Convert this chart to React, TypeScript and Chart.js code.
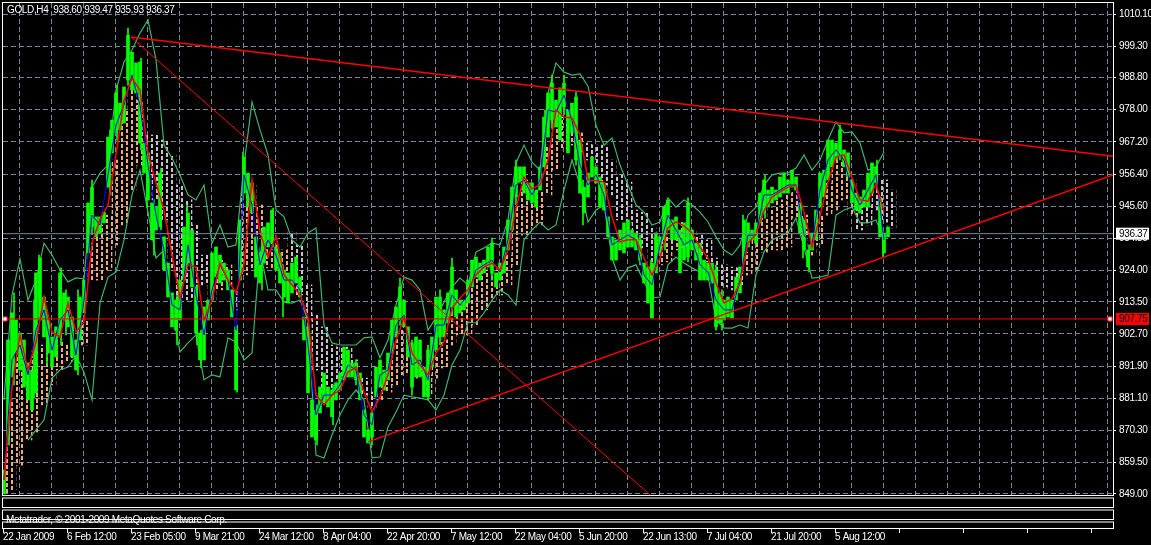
import React, { useEffect, useRef } from "react";
import { Chart, registerables } from "chart.js";

Chart.register(...registerables);

const FONT = "'Liberation Sans', Arial, sans-serif";

const title = "GOLD,H4  938.60 939.47 935.93 936.37";
const copyright = "Metatrader, © 2001-2009 MetaQuotes Software Corp.";
const timeLabels = ["22 Jan 2009", "6 Feb 12:00", "23 Feb 05:00", "9 Mar 21:00", "24 Mar 12:00", "8 Apr 04:00", "22 Apr 20:00", "7 May 12:00", "22 May 04:00", "5 Jun 20:00", "22 Jun 13:00", "7 Jul 04:00", "21 Jul 20:00", "5 Aug 12:00"];
const priceTicks = [849.0, 859.5, 870.3, 881.1, 891.9, 902.7, 913.5, 924.0, 934.8, 945.6, 956.4, 967.2, 978.0, 988.8, 999.3, 1010.1];

const bidPrice = 936.37;
const levelPrice = 907.75;

const highs = [857.1,900.7,909.8,907.4,903.0,900.7,893.0,890.6,923.2,928.2,915.1,907.4,901.7,905.1,923.2,916.5,915.1,908.4,900.7,915.1,920.8,946.7,952.0,942.0,942.0,943.6,968.8,974.5,983.6,980.2,985.6,1003.0,997.3,993.7,994.0,966.8,963.5,946.7,945.3,956.7,935.3,926.5,916.5,914.1,920.8,938.6,943.3,937.6,918.5,903.0,911.8,914.1,929.9,931.9,929.2,926.5,924.2,917.5,905.1,941.0,962.1,956.7,953.4,935.3,929.9,938.6,940.0,944.3,931.9,929.9,924.2,923.2,926.5,928.5,921.8,908.4,905.1,880.6,877.2,884.9,889.6,884.9,883.9,886.3,889.6,898.3,897.3,893.0,893.0,889.6,877.2,870.5,876.2,891.6,894.0,890.6,896.3,907.4,911.8,918.5,914.1,905.1,899.7,901.7,900.7,891.6,897.3,901.7,915.1,915.1,910.8,916.5,925.2,917.5,914.1,914.1,920.8,927.5,928.5,926.5,927.5,931.9,933.2,923.2,926.5,931.9,941.0,952.0,958.8,958.8,958.8,953.4,953.4,951.0,958.8,975.5,983.6,986.9,981.2,985.3,986.9,977.9,980.2,982.2,967.8,952.0,956.7,962.1,958.8,955.4,953.4,942.0,935.3,934.3,937.6,940.0,941.0,937.6,936.6,934.3,926.5,925.2,926.5,936.6,935.3,945.3,947.7,941.0,942.0,937.6,940.0,946.7,937.6,933.2,933.2,927.5,926.5,926.5,924.2,916.5,914.1,915.1,914.1,921.8,925.2,941.0,940.0,937.6,940.0,950.0,954.4,951.0,952.0,951.0,955.4,956.7,954.4,957.7,955.4,946.7,941.0,930.9,936.6,944.3,956.7,957.7,967.8,967.8,966.8,971.2,964.5,963.5,954.4,950.0,948.7,951.0,956.7,960.1,958.8,948.7,936.6,938.6];
const lows = [849.0,867.1,888.3,896.3,890.6,884.9,880.6,877.2,882.9,907.4,901.7,896.3,891.6,895.0,901.7,907.4,905.1,895.0,890.6,900.7,909.8,929.9,938.6,935.3,936.6,940.0,952.0,963.5,970.2,971.2,973.5,987.9,984.6,983.6,966.8,956.7,947.7,934.3,937.6,938.6,924.2,915.1,905.1,904.0,907.4,920.8,926.5,918.5,903.0,894.0,894.0,907.4,914.1,921.8,919.8,920.8,917.5,908.4,883.9,920.8,950.0,945.3,943.3,921.8,919.8,926.5,931.9,933.2,924.2,919.8,915.1,913.1,916.5,919.8,915.1,900.7,882.9,868.1,867.1,876.2,879.6,878.2,874.9,880.6,883.9,887.3,888.3,888.3,887.3,880.6,868.1,866.1,868.1,881.6,884.9,883.9,887.3,896.3,901.7,907.4,905.1,895.0,884.9,888.3,888.3,881.6,881.6,891.6,897.3,901.7,901.7,906.4,911.8,908.4,909.8,910.8,913.1,918.5,921.8,920.8,923.2,925.2,923.2,918.5,920.8,923.2,930.9,937.6,948.7,953.4,950.0,947.7,946.7,945.3,951.0,958.8,968.8,974.5,972.2,967.8,978.9,963.5,970.2,961.1,950.0,943.3,948.7,955.4,953.4,945.3,944.3,935.3,927.5,927.5,930.9,929.9,931.9,931.9,930.9,927.5,919.8,913.1,908.1,923.2,929.9,934.3,937.6,934.3,934.3,923.2,927.5,928.5,930.9,927.5,920.8,920.8,920.8,919.8,905.1,906.4,907.4,908.4,908.1,914.1,916.5,927.5,931.9,934.3,933.2,940.0,943.3,945.3,946.7,947.7,948.7,950.0,950.0,952.0,951.0,936.6,930.9,925.2,930.9,934.3,945.3,948.7,954.4,958.8,961.1,962.1,958.8,955.4,946.7,944.3,943.3,945.3,945.3,950.0,953.4,935.3,929.9,935.3];

// Long single-bar wicks
const wickBar = [6,11,31,36,44,58,63,75,89,107,114,125,138,144,151,158,174,184,194,198,234,240,259,270,280,314,330,353,369,397,409,425,437,449,489,513,542,549,561,573,580,637,648,650,662,685,713,719,740,762,800,806,837,874,880];
const wickHigh = [890.6,916.5,914.1,929.2,910.8,924.9,917.5,917.5,954.4,971.2,986.2,1005.4,995.3,964.5,947.7,958.4,915.8,946.0,919.2,904.0,905.7,963.8,937.6,945.0,925.9,878.9,885.6,894.0,877.2,921.5,900.7,899.0,917.5,928.2,934.9,961.1,977.9,989.6,989.6,983.9,954.4,935.9,927.5,925.9,945.9,948.4,925.9,917.5,942.6,956.1,941.6,932.6,972.8,961.1,937.6];
const wickLow = [865.5,885.6,881.2,914.1,892.3,899.0,902.4,889.0,936.0,949.4,967.8,986.2,964.5,945.0,929.2,937.6,899.0,924.2,899.0,891.3,883.2,947.7,917.5,931.9,908.4,865.5,872.2,885.6,865.5,905.7,882.2,880.6,899.0,909.1,920.8,946.0,957.7,971.9,976.2,959.4,939.3,925.9,908.1,914.1,930.9,926.9,904.0,904.0,925.9,941.6,928.2,923.5,961.1,951.0,928.2];

const blueLine = [853.7,894.0,899.0,889.0,904.0,910.8,897.3,907.4,910.8,895.6,914.1,942.6,939.3,956.1,972.8,979.6,989.6,979.6,959.4,942.6,930.9,912.4,910.8,932.6,915.8,902.4,917.5,925.9,920.8,904.0,956.1,946.0,925.9,934.3,929.2,920.8,920.8,917.5,899.0,875.5,882.2,882.2,885.6,892.3,890.6,875.5,872.2,889.0,890.6,905.7,909.1,892.3,894.0,887.3,905.7,905.7,915.8,912.4,915.8,924.2,925.9,927.5,923.5,934.3,952.7,954.4,949.4,954.4,977.9,977.2,982.9,974.5,959.4,952.7,956.1,949.4,932.6,934.3,935.9,934.3,922.5,919.2,932.6,942.6,937.6,932.6,934.3,925.9,923.5,914.1,910.8,910.8,920.8,935.9,935.9,949.4,949.4,951.0,952.7,952.7,935.9,932.6,951.0,961.1,964.5,961.1,951.0,946.0,951.0,956.1,934.3];
const redLine = [853.7,884.9,902.4,890.6,900.0,915.1,903.4,901.7,913.1,903.4,906.7,933.2,941.3,946.0,962.8,981.2,988.6,984.6,963.5,953.4,944.3,929.2,914.8,925.9,925.2,907.4,914.1,926.5,920.8,916.5,925.9,954.4,936.9,928.5,935.6,922.5,919.2,915.8,908.4,882.2,878.9,882.2,883.9,889.9,891.6,883.2,876.5,881.6,889.0,900.7,908.1,896.3,892.3,889.0,896.3,900.0,911.4,914.8,917.5,922.5,925.2,926.5,924.2,930.9,945.0,955.4,951.4,952.7,961.1,977.9,975.5,975.2,969.5,954.4,954.1,953.7,942.0,933.6,934.3,934.3,928.2,922.5,928.2,938.3,940.3,939.0,936.6,931.9,928.2,919.8,913.1,914.5,919.8,933.2,936.3,944.0,948.7,950.4,952.0,952.7,943.6,931.9,942.3,953.7,962.1,962.8,955.1,947.7,947.3,953.1,943.6];
const upperBand = [880.6,915.8,927.9,914.1,920.8,933.2,929.2,924.2,920.2,921.5,921.2,952.0,956.7,959.4,984.6,994.0,998.0,1003.7,1008.1,994.7,966.1,961.8,956.1,949.4,947.7,952.7,933.2,939.3,931.9,932.6,959.4,980.6,971.2,962.8,944.3,942.0,934.3,931.9,936.6,938.3,905.7,899.7,899.0,899.0,899.0,901.4,901.7,894.7,900.7,912.4,921.8,920.8,917.5,904.0,908.1,913.4,918.5,921.5,919.2,930.2,931.6,933.2,932.6,941.0,960.1,966.1,960.4,957.7,983.6,993.7,990.6,989.6,990.0,985.9,972.8,966.1,968.5,959.4,952.7,946.0,943.6,939.3,940.3,948.4,945.3,947.7,946.0,943.6,940.3,935.3,930.9,929.2,932.6,942.6,945.3,952.7,956.1,956.7,956.7,958.4,962.8,957.7,961.1,967.8,973.9,970.2,970.5,966.8,957.7,958.8,963.8];
const lowerBand = [null,null,null,867.1,870.5,873.8,887.9,890.6,891.6,895.6,889.9,880.6,913.1,921.8,923.5,934.3,949.4,957.7,943.6,928.2,930.9,910.8,896.7,899.7,902.4,887.3,889.0,888.3,901.4,900.0,894.0,896.3,930.9,917.5,917.5,913.4,913.1,914.1,907.4,862.1,861.1,868.8,875.5,880.6,883.9,880.6,861.1,861.4,871.5,876.5,882.2,881.6,881.2,880.6,877.2,882.2,892.3,897.3,906.7,906.4,909.8,914.1,917.5,915.8,912.4,934.3,937.6,940.3,937.6,939.3,951.0,961.1,952.7,940.3,944.3,946.0,928.2,920.8,924.9,925.9,920.2,914.8,915.1,925.9,928.5,926.5,924.9,923.5,922.2,907.4,904.7,904.7,905.7,904.7,922.5,930.2,934.3,935.6,936.6,941.6,931.6,921.5,921.8,922.5,942.6,944.3,945.3,940.0,940.0,941.0,934.3];

const cloudTop = [867.1,880.6,895.6,887.3,897.3,899.0,897.3,900.7,899.0,900.7,907.4,933.2,939.3,942.6,961.1,977.9,984.6,981.2,969.5,969.5,967.8,962.8,952.7,947.7,939.3,929.2,925.9,927.5,925.9,917.5,951.0,952.7,946.0,934.3,932.6,930.9,936.9,932.6,919.2,909.1,905.1,899.0,898.3,898.3,894.0,887.9,883.2,885.6,892.3,902.4,904.0,894.7,892.3,889.0,895.6,900.7,910.8,914.1,919.2,922.5,924.2,925.9,924.2,929.2,946.0,954.4,951.0,951.0,966.1,977.2,975.5,975.2,970.2,966.8,966.1,966.1,961.1,956.1,953.7,944.3,943.6,938.3,934.3,935.9,935.9,940.3,937.6,935.9,934.3,928.2,925.9,925.2,924.9,930.2,935.9,941.6,945.0,947.7,950.0,951.0,942.6,934.3,942.6,953.4,961.1,960.4,954.4,947.7,946.0,951.0,954.4,951.0];
const cloudBottom = [849.0,850.4,858.7,867.1,869.8,878.9,885.6,890.6,893.3,894.7,899.0,920.8,920.8,924.2,932.6,939.3,951.0,959.4,956.1,947.7,941.0,924.2,914.1,914.1,914.1,919.2,914.1,917.5,919.2,910.8,922.5,924.2,925.9,924.9,924.9,922.5,919.2,915.8,907.4,890.6,882.9,883.9,887.3,890.6,887.9,882.2,877.9,880.6,883.2,885.6,889.0,889.9,887.9,882.2,887.9,891.3,899.0,902.4,902.4,905.7,910.8,914.1,915.8,919.2,925.9,935.9,938.3,939.3,949.4,957.7,964.5,966.1,963.8,961.1,959.4,952.7,949.4,941.0,940.3,933.2,931.6,923.5,925.9,926.9,930.9,931.6,930.9,929.2,926.9,919.8,918.5,917.5,919.2,922.5,924.2,930.2,930.9,930.9,931.9,941.6,935.9,929.2,932.6,942.6,944.3,947.7,942.6,937.6,939.3,944.3,940.3,938.3];
// 1 = rising (sandy) part of the cloud, 0 = falling (pale) part
const cloudRising = [1,1,1,1,1,1,1,1,1,1,1,1,1,1,1,1,1,1,0,0,0,0,0,0,0,0,1,1,1,1,1,1,1,1,1,1,0,0,0,0,0,0,0,0,0,0,0,1,1,1,1,1,1,1,1,1,1,1,1,1,1,1,1,1,1,1,1,1,1,1,1,1,1,0,0,0,0,0,0,0,0,0,1,1,1,1,1,0,0,0,0,0,0,1,1,1,1,1,1,1,1,1,1,1,1,1,1,0,0,0,0,0];

const resistanceX = [128, 1110];
const resistanceY = [1002.4, 962.4];
const fallingX = [128, 647];
const fallingY = [1002.4, 848.7];
const supportX = [365, 1110];
const supportY = [866.5, 956.1];
const handleX = [2, 1107];
const gridStepX = 32;
const xMax = 1110;

const GREEN = "#00ff00";
const BAND = "#3cb371";
const SLATE = "#778899";

function dashPattern(color: string): CanvasPattern {
  const tile = document.createElement("canvas");
  tile.width = 10;
  tile.height = 6;
  const c = tile.getContext("2d")!;
  c.fillStyle = color;
  c.fillRect(1, 0, 2, 4);
  c.fillRect(6, 3, 2, 3);
  c.fillRect(6, 0, 2, 1);
  return document.createElement("canvas").getContext("2d")!.createPattern(tile, "repeat")!;
}

const framePlugin = {
  id: "mtFrame",
  afterDraw(chart: Chart) {
    const ctx = chart.ctx;
    const yScale: any = chart.scales.y;
    const xScale: any = chart.scales.x;
    const area = chart.chartArea;
    ctx.save();
    ctx.textBaseline = "middle";
    ctx.textAlign = "left";
    ctx.font = `10px ${FONT}`;
    ctx.fillStyle = "#ffffff";
    ctx.fillText(title, 7, 10);
    ctx.fillText(copyright, 6, 520);

    ctx.strokeStyle = "#ffffff";
    ctx.lineWidth = 1;
    const right = area.right + 0.5;
    const panels = [[2, area.bottom + 0.5], [497.5, 507.5], [509.5, 519.5], [521.5, 528.5]];
    for (const [top, bottom] of panels) {
      ctx.strokeRect(2.5, top + 0.5, right - 2.5, bottom - top - 0.5);
    }
    for (const t of xScale.ticks) {
      if ((t.value / gridStepX) % 2 === 0) {
        const px = Math.round(xScale.getPixelForValue(t.value)) + 0.5;
        ctx.beginPath();
        ctx.moveTo(px, 529);
        ctx.lineTo(px, 533);
        ctx.stroke();
      }
    }

    const box = (price: number, bg: string) => {
      const py = yScale.getPixelForValue(price);
      ctx.fillStyle = bg;
      ctx.fillRect(area.right + 3, py - 6, 33, 12);
      ctx.fillStyle = "#000000";
      ctx.fillText(price.toFixed(2), area.right + 6, py + 0.5);
    };
    box(bidPrice, "#ffffff");
    box(levelPrice, "#ff0000");
    ctx.restore();
  },
};

export default function App() {
  const ref = useRef<HTMLCanvasElement>(null);

  useEffect(() => {
    document.body.style.margin = "0";
    document.body.style.background = "#000000";
    const sandy = dashPattern("#eeaa78");
    const pale = dashPattern("#cfbccc");
    const candleX = (i: number) => i * 4 + 1;
    const lineX = (i: number) => i * 8 + 1;
    const lineData = (a: (number | null)[]) => a.map((y, i) => ({ x: lineX(i), y }));
    const segment = (xs: number[], ys: number[]) => xs.map((x, i) => ({ x, y: ys[i] }));
    const lineBase = { type: "line" as const, pointRadius: 0, tension: 0, fill: false };
    const hLine = (y: number) => [{ x: 0, y }, { x: xMax, y }];

    const chart = new Chart(ref.current!, {
      type: "bar",
      data: {
        datasets: [
          {
            label: "Cloud",
            data: cloudTop.map((t, i) => ({ x: lineX(i), y: [cloudBottom[i], t] })),
            backgroundColor: cloudRising.map((r) => (r ? sandy : pale)),
            barThickness: 8,
            borderWidth: 0,
            order: 9,
          },
          {
            ...lineBase,
            label: "Upper band",
            data: lineData(upperBand),
            borderColor: BAND,
            borderWidth: 1.2,
            order: 8,
          },
          {
            ...lineBase,
            label: "Lower band",
            data: lineData(lowerBand),
            borderColor: BAND,
            borderWidth: 1.2,
            order: 8,
          },
          {
            label: "Price",
            data: highs.map((h, i) => ({ x: candleX(i), y: [lows[i], h] })),
            backgroundColor: GREEN,
            barThickness: 3,
            borderWidth: 0,
            order: 7,
          },
          {
            label: "Wicks",
            data: wickBar.map((x, i) => ({ x, y: [wickLow[i], wickHigh[i]] })),
            backgroundColor: GREEN,
            barThickness: 1,
            borderWidth: 0,
            order: 7,
          },
          {
            ...lineBase,
            label: "Slow",
            data: lineData(redLine),
            borderColor: "#ff0000",
            borderWidth: 1.5,
            order: 6,
          },
          {
            ...lineBase,
            label: "Fast",
            data: lineData(blueLine),
            borderColor: "#0000ff",
            borderWidth: 1,
            order: 6,
          },
          { ...lineBase, label: "Bid", data: hLine(bidPrice), borderColor: SLATE, borderWidth: 1, order: 4 },
          { ...lineBase, label: "Level", data: hLine(levelPrice), borderColor: "#ff0000", borderWidth: 1, order: 3 },
          { ...lineBase, label: "Resistance", data: segment(resistanceX, resistanceY), borderColor: "#ff0000", borderWidth: 1.5, order: 2 },
          { ...lineBase, label: "Falling", data: segment(fallingX, fallingY), borderColor: "#ff0000", borderWidth: 1, order: 2 },
          { ...lineBase, label: "Support", data: segment(supportX, supportY), borderColor: "#ff0000", borderWidth: 1.5, order: 2 },
          {
            ...lineBase,
            label: "Handles",
            data: handleX.map((x) => ({ x, y: levelPrice })),
            showLine: false,
            pointStyle: "rect",
            pointRadius: 3,
            pointBackgroundColor: "#ffffff",
            pointBorderColor: "#ff0000",
            pointBorderWidth: 1,
            order: 1,
          },
        ] as any,
      },
      options: {
        responsive: false,
        animation: false,
        devicePixelRatio: 1,
        events: [],
        datasets: { bar: { grouped: false } } as any,
        layout: { autoPadding: false, padding: { left: 3, top: 3, right: 0, bottom: 0 } },
        plugins: { legend: { display: false }, tooltip: { enabled: false } },
        scales: {
          x: {
            type: "linear",
            min: 0,
            max: xMax,
            offset: false,
            afterFit: (s: any) => {
              s.height = 50;
              s.paddingLeft = 0;
              s.paddingRight = 0;
            },
            afterBuildTicks: (s: any) => {
              const out = [];
              for (let v = 0; v < xMax; v += gridStepX) out.push({ value: v });
              s.ticks = out;
            },
            border: { display: false, dash: [5, 3] },
            grid: { color: SLATE, lineWidth: 1, drawTicks: false },
            ticks: {
              autoSkip: false,
              maxRotation: 0,
              align: "start",
              padding: 36,
              color: "#ffffff",
              font: { family: FONT, size: 10 },
              callback: (v: any) => {
                const k = Number(v) / gridStepX;
                return k % 2 === 0 ? timeLabels[k / 2] ?? "" : "";
              },
            },
          },
          y: {
            type: "linear",
            position: "right",
            min: 848.66,
            max: 1013.8,
            afterFit: (s: any) => {
              s.width = 38;
              s.paddingTop = 0;
              s.paddingBottom = 0;
            },
            afterBuildTicks: (s: any) => { s.ticks = priceTicks.map((value) => ({ value })); },
            border: { display: false, dash: [5, 3] },
            grid: { color: SLATE, lineWidth: 1, tickColor: "#ffffff", tickLength: 3, tickBorderDash: [] } as any,
            ticks: {
              autoSkip: false,
              padding: 3,
              color: "#ffffff",
              font: { family: FONT, size: 10 },
              callback: (v: any) => Number(v).toFixed(2),
            },
          },
        },
      },
      plugins: [
        {
          id: "blackBg",
          beforeDraw(c: Chart) {
            (c.ctx as any).letterSpacing = "-0.35px";
            c.ctx.save();
            c.ctx.fillStyle = "#000000";
            c.ctx.fillRect(0, 0, c.width, c.height);
            c.ctx.restore();
          },
        },
        framePlugin,
      ],
    } as any);
    return () => chart.destroy();
  }, []);

  return <canvas ref={ref} width={1151} height={545} style={{ display: "block" }} />;
}
